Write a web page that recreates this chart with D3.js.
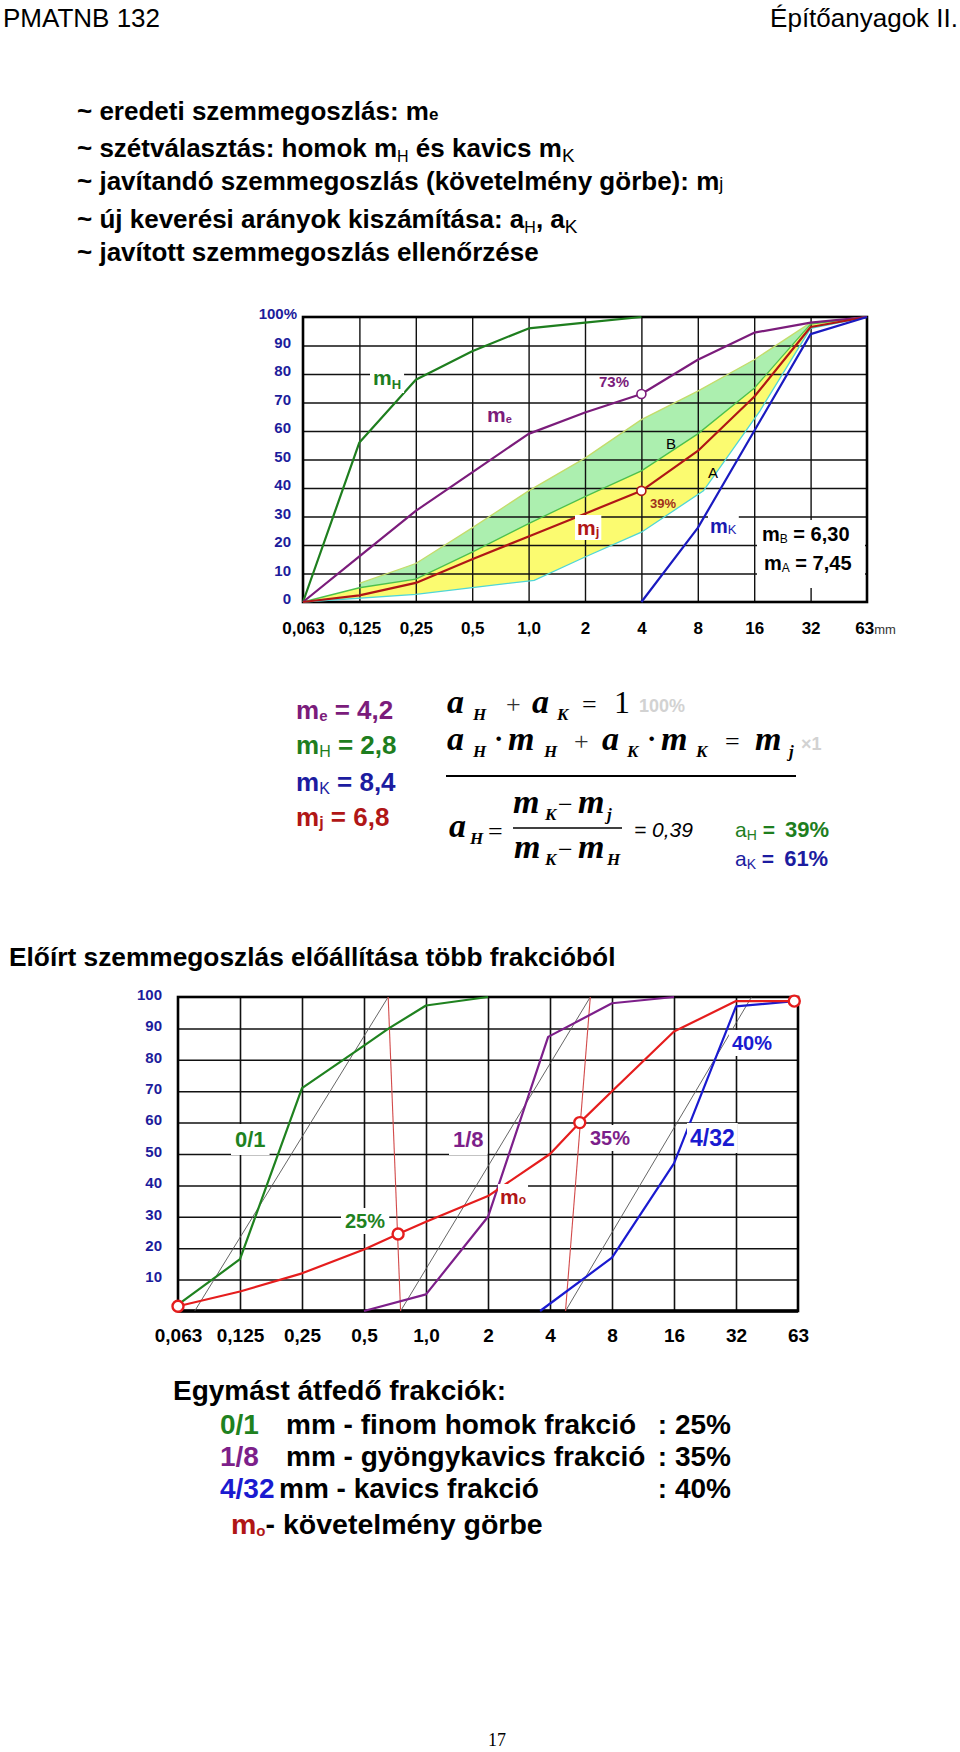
<!DOCTYPE html>
<html><head><meta charset="utf-8">
<script src="https://cdn.jsdelivr.net/npm/d3@7"></script>
<style>body{margin:0;background:#fff}svg{display:block}</style>
</head><body>
<svg id="page" width="960" height="1752"></svg>
<script>
// ---------------- DATA ----------------
// sieve sizes (mm), log2 spaced -> index 0..10
const sieveLabels = ["0,063","0,125","0,25","0,5","1,0","2","4","8","16","32","63"];
const yTicks1 = [0,10,20,30,40,50,60,70,80,90,100];
const yTicks2 = [10,20,30,40,50,60,70,80,90,100];

// Chart 1: [sieve index, passing %]
const mH = [[0,0],[1,56],[2,78],[3,88],[4,96],[5,98],[6,100]];
const mE = [[0,0],[1,16],[2,32],[3,45.5],[4,59],[5,66.5],[6,73],[7,85],[8,94.5],[9,98],[10,100]];
const mJ = [[0,0],[1,2.3],[2,6.7],[3,15],[4,23],[5,31],[6,39],[7,53],[8,72],[9,96.5],[10,100]];
const mK = [[6,0],[7,26],[8,60],[9,94],[10,100]];
const bandUpper = [[1,6.5],[2,13.5],[3,26],[4,39],[5,50.5],[6,64],[7,74],[8,85],[9,98],[10,100]];
const bandMid   = [[0,0],[1,5],[2,8],[3,17.5],[4,27.5],[5,37],[6,46],[7,59],[8,75],[9,97.5],[10,100]];
const bandLower = [[0,0],[2,2.7],[4.1,7.6],[5,15.8],[6,24.5],[7.1,39],[8.1,67],[9,96],[10,100]];
const marks1 = [[6,73],[6,39]];

// Chart 2
const fr01  = [[0,2],[1,16.5],[2,71],[3,84.5],[3.4,90],[4,97.3],[5,100]];
const fr18  = [[3,0],[4,5.3],[5,30],[5.97,87.3],[7,98],[8,100]];
const fr432 = [[5.84,0],[7,17],[8,47],[9,97],[9.94,98.7]];
const mO    = [[0,1.5],[1,6.2],[2,12],[3,19.6],[3.55,24.5],[4,28.4],[5,36.6],[6,50],[6.48,60],[7,70],[8,89],[9,98.7],[9.94,98.7]];
const guide01  = [[0.27,0],[3.39,100]];
const guide18  = [[3.59,0],[6.65,100]];
const guide432 = [[6.25,0],[9.25,100]];
const divide25 = [[3.39,100],[3.59,0]];
const divide35 = [[6.65,100],[6.25,0]];
const marks2 = [[0,1.5],[3.55,24.5],[6.48,60],[9.94,98.7]];

// ---------------- DRAW ----------------
const ARIAL = "Arial, 'Liberation Sans', Helvetica, sans-serif";
const SERIF = "'Times New Roman', 'Liberation Serif', serif";
const PURPLE="#7b1c7b", GREEN="#1e7e1e", BLUE="#1c1ca0", DRED="#b01616", RED="#e51d1d";
const svg = d3.select("#page");
svg.append("rect").attr("width",960).attr("height",1752).attr("fill","#fff");

function rich(g, x, y, parts, attrs) {
  const t = g.append("text").attr("x", x).attr("y", y).attr("font-family", ARIAL);
  Object.entries(attrs||{}).forEach(([k,v])=>t.attr(k,v));
  let cur = 0;
  parts.forEach(p => {
    const o = p.off || 0;
    const ts = t.append("tspan").text(p.t).attr("dy", o - cur);
    cur = o;
    if (p.fs) ts.attr("font-size", p.fs);
    if (p.fw) ts.attr("font-weight", p.fw);
    if (p.fill) ts.attr("fill", p.fill);
    if (p.ff) ts.attr("font-family", p.ff);
    if (p.fst) ts.attr("font-style", p.fst);
    if (p.dx) ts.attr("dx", p.dx);
  });
  return t;
}
function boxed(g, t, px, py) {
  const b = t.node().getBBox();
  g.insert("rect", () => t.node()).attr("x", b.x-px).attr("y", b.y-py)
    .attr("width", b.width+2*px).attr("height", b.height+2*py).attr("fill","#fff");
}
function ftxt(g, x, y, t, fs, o) {
  o = o || {};
  return g.append("text").attr("x",x).attr("y",y).text(t).attr("font-size",fs)
    .attr("font-family", o.ff || SERIF).attr("font-weight", o.fw || "bold")
    .attr("font-style", o.fst || "italic").attr("fill", o.fill || "#000");
}

// Header
svg.append("text").attr("x",3).attr("y",27).text("PMATNB 132").attr("font-family",ARIAL).attr("font-size",26);
svg.append("text").attr("x",958).attr("y",27).attr("text-anchor","end").text("Építőanyagok II.").attr("font-family",ARIAL).attr("font-size",26);

// bullet list
const L = svg.append("g").attr("font-weight","bold").attr("font-size",26);
rich(L, 77, 120, [{t:"~ eredeti szemmegoszlás: m"},{t:"e",fs:17}]);
rich(L, 77, 157, [{t:"~ szétválasztás: homok m"},{t:"H",fs:16,off:5,fw:"normal"},{t:" és kavics m",off:0},{t:"K",fs:19,off:5,fw:"normal"}]);
rich(L, 77, 190, [{t:"~ javítandó szemmegoszlás (követelmény görbe): m"},{t:"j",fs:18,fw:"normal"}]);
rich(L, 77, 228, [{t:"~ új keverési arányok kiszámítása: a"},{t:"H",fs:16,off:5,fw:"normal"},{t:", a",off:0},{t:"K",fs:19,off:5,fw:"normal"}]);
rich(L, 77, 261, [{t:"~ javított szemmegoszlás ellenőrzése"}]);

// ---------- Chart 1 ----------
const c1 = {left:303, right:867, top:317, bottom:602};
const x1 = d3.scaleLinear().domain([0,10]).range([c1.left,c1.right]);
const y1 = d3.scaleLinear().domain([0,100]).range([c1.bottom,c1.top]);
const line1 = d3.line().x(d=>x1(d[0])).y(d=>y1(d[1]));
const g1 = svg.append("g");

g1.append("path").attr("d", line1(bandUpper.concat(bandMid.filter(d=>d[0]>=1).reverse()))+"Z").attr("fill","#acefaf");
g1.append("path").attr("d", line1(bandMid.concat(bandLower.slice().reverse()))+"Z").attr("fill","#fbfb70");

// grid
g1.append("g").attr("transform",`translate(0,${c1.bottom})`)
  .call(d3.axisBottom(x1).tickValues(d3.range(1,10)).tickSize(-(c1.bottom-c1.top)).tickFormat(""))
  .call(g=>g.select(".domain").remove())
  .call(g=>g.selectAll("line").attr("stroke","#111").attr("stroke-width",1.4));
g1.append("g").attr("transform",`translate(${c1.left},0)`)
  .call(d3.axisLeft(y1).tickValues(yTicks1.slice(1,10)).tickSize(-(c1.right-c1.left)).tickFormat(""))
  .call(g=>g.select(".domain").remove())
  .call(g=>g.selectAll("line").attr("stroke","#111").attr("stroke-width",1.4));
g1.append("rect").attr("x",c1.left).attr("y",c1.top).attr("width",c1.right-c1.left).attr("height",c1.bottom-c1.top)
  .attr("fill","none").attr("stroke","#000").attr("stroke-width",2.6);

// white info box
g1.append("rect").attr("x",757).attr("y",520).attr("width",108).attr("height",68).attr("fill","#fff");

// band boundary lines
g1.append("path").attr("d",line1(bandUpper)).attr("fill","none").attr("stroke","#c4dc6a").attr("stroke-width",1.3);
g1.append("path").attr("d",line1(bandMid)).attr("fill","none").attr("stroke","#4cc04c").attr("stroke-width",1.3);
g1.append("path").attr("d",line1(bandLower)).attr("fill","none").attr("stroke","#4fd6d6").attr("stroke-width",1.3);

// curves
[[mH,GREEN],[mE,PURPLE],[mJ,DRED],[mK,"#1a1ac0"]].forEach(([d,c])=>{
  g1.append("path").attr("d",line1(d)).attr("fill","none").attr("stroke",c).attr("stroke-width",2.2).attr("stroke-linejoin","round");
});
g1.selectAll(".mk1").data(marks1).join("circle").attr("cx",d=>x1(d[0])).attr("cy",d=>y1(d[1])).attr("r",4.5)
  .attr("fill","#fff").attr("stroke",(d,i)=>i?DRED:PURPLE).attr("stroke-width",1.6);

// axes labels
g1.append("g").attr("transform",`translate(0,${c1.bottom})`)
  .call(d3.axisBottom(x1).tickValues(d3.range(11)).tickFormat(i=>sieveLabels[i]).tickSize(0))
  .call(g=>g.select(".domain").remove())
  .call(g=>g.selectAll("text").attr("y",32).attr("dy",0).attr("font-size",17).attr("font-weight","bold")
        .attr("font-family",ARIAL).attr("fill","#000"))
  .call(g=>{ const last = g.selectAll("text").filter((d)=>d===10);
             last.attr("x",8).append("tspan").text("mm").attr("font-weight","normal").attr("font-size",13).attr("fill","#333"); });
g1.append("g").attr("transform",`translate(${c1.left},0)`)
  .call(d3.axisLeft(y1).tickValues(yTicks1).tickFormat(v=>v===100?"100%":v).tickSize(0).tickPadding(12))
  .call(g=>g.select(".domain").remove())
  .call(g=>g.selectAll("text").attr("dy","0.12em").attr("font-size",15).attr("font-weight","bold")
        .attr("font-family",ARIAL).attr("fill","#1c1c9c"))
  .call(g=>g.selectAll("text").filter(d=>d===100).attr("x",-6));

// chart 1 labels
const lb1 = g1.append("g").attr("font-weight","bold");
boxed(lb1, rich(lb1, 373, 385, [{t:"m",fs:21},{t:"H",fs:13,off:4}], {fill:GREEN}), 3, 1);
rich(lb1, 487, 422, [{t:"m",fs:21},{t:"e",fs:11,off:1}], {fill:PURPLE});
rich(lb1, 599, 387, [{t:"73%",fs:15}], {fill:PURPLE});
boxed(lb1, rich(lb1, 577, 535, [{t:"m",fs:21},{t:"j",fs:13,off:1}], {fill:DRED}), 2, 1);
rich(lb1, 650, 508, [{t:"39%",fs:13}], {fill:"#a0301a"});
rich(lb1, 666, 449, [{t:"B",fs:15,fw:"normal"}], {fill:"#000"});
rich(lb1, 708, 478, [{t:"A",fs:15,fw:"normal"}], {fill:"#000"});
boxed(lb1, rich(lb1, 710, 533, [{t:"m",fs:20},{t:"K",fs:13,off:1,fw:"normal"}], {fill:"#1a1ab0"}), 2, 1);
rich(lb1, 762, 541, [{t:"m",fs:20},{t:"B",fs:12,off:2,fw:"normal"},{t:" = 6,30",fs:20,off:0}], {fill:"#000"});
rich(lb1, 764, 570, [{t:"m",fs:20},{t:"A",fs:12,off:2,fw:"normal"},{t:" = 7,45",fs:20,off:0}], {fill:"#000"});

// ---------- Formulas ----------
const F = svg.append("g");
const lf = F.append("g").attr("font-weight","bold").attr("font-size",26);
rich(lf, 296, 719, [{t:"m"},{t:"e",fs:15,off:2},{t:" = 4,2",off:0}], {fill:PURPLE});
rich(lf, 296, 754, [{t:"m"},{t:"H",fs:16,off:3,fw:"normal"},{t:" = 2,8",off:0}], {fill:GREEN});
rich(lf, 296, 791, [{t:"m"},{t:"K",fs:16,off:3,fw:"normal"},{t:" = 8,4",off:0}], {fill:BLUE});
rich(lf, 296, 826, [{t:"m"},{t:"j",fs:16,off:2},{t:"  = 6,8",off:0}], {fill:DRED});

const FS = 34, SS = 17;
// row 1
ftxt(F,447,713,"a",FS); ftxt(F,473,720,"H",SS);
ftxt(F,506,713,"+",26,{fw:"normal",fst:"normal",fill:"#333"});
ftxt(F,532,713,"a",FS); ftxt(F,557,720,"K",SS);
ftxt(F,582,713,"=",26,{fw:"normal",fst:"normal"});
ftxt(F,614,713,"1",32,{fw:"normal",fst:"normal"});
ftxt(F,639,712,"100%",18,{ff:ARIAL,fst:"normal",fill:"#d2d2d2"});
// row 2
ftxt(F,447,750,"a",FS); ftxt(F,473,757,"H",SS);
ftxt(F,494,748,"·",28,{fst:"normal"});
ftxt(F,508,750,"m",FS); ftxt(F,544,757,"H",SS);
ftxt(F,574,750,"+",26,{fw:"normal",fst:"normal",fill:"#333"});
ftxt(F,602,750,"a",FS); ftxt(F,627,757,"K",SS);
ftxt(F,647,748,"·",28,{fst:"normal"});
ftxt(F,661,750,"m",FS); ftxt(F,696,757,"K",SS);
ftxt(F,725,750,"=",26,{fw:"normal",fst:"normal"});
ftxt(F,755,750,"m",FS); ftxt(F,789,757,"j",SS);
ftxt(F,801,750,"×1",18,{ff:ARIAL,fst:"normal",fill:"#d2d2d2"});
F.append("line").attr("x1",446).attr("x2",796).attr("y1",776).attr("y2",776).attr("stroke","#000").attr("stroke-width",2);
// row 3
ftxt(F,449,837,"a",FS); ftxt(F,470,844,"H",SS);
ftxt(F,488,840,"=",26,{fw:"normal",fst:"normal"});
ftxt(F,513,813,"m",FS); ftxt(F,545,820,"K",SS);
ftxt(F,558,813,"−",26,{fw:"normal",fst:"normal"});
ftxt(F,578,813,"m",FS); ftxt(F,607,820,"j",SS);
F.append("line").attr("x1",513).attr("x2",622).attr("y1",828).attr("y2",828).attr("stroke","#000").attr("stroke-width",1.5);
ftxt(F,514,858,"m",FS); ftxt(F,545,865,"K",SS);
ftxt(F,558,858,"−",26,{fw:"normal",fst:"normal"});
ftxt(F,578,858,"m",FS); ftxt(F,607,865,"H",SS);
ftxt(F,634,837,"= 0,39",21,{ff:ARIAL,fw:"normal"});
rich(F, 735, 837, [{t:"a",fs:21,fw:"normal"},{t:"H",fs:14,off:3,fw:"normal"},{t:" =",fs:21,off:0,fw:"bold"},{t:"39%",fs:22,fw:"bold",dx:10}], {fill:GREEN});
rich(F, 735, 866, [{t:"a",fs:21,fw:"normal"},{t:"K",fs:14,off:3,fw:"normal"},{t:" =",fs:21,off:0,fw:"bold"},{t:"61%",fs:22,fw:"bold",dx:10}], {fill:BLUE});

// heading
svg.append("text").attr("x",9).attr("y",966).text("Előírt szemmegoszlás előállítása több frakcióból")
  .attr("font-family",ARIAL).attr("font-weight","bold").attr("font-size",26.3);

// ---------- Chart 2 ----------
const c2 = {left:178, right:798, top:997, bottom:1311};
const x2 = d3.scaleLinear().domain([0,10]).range([c2.left,c2.right]);
const y2 = d3.scaleLinear().domain([0,100]).range([c2.bottom,c2.top]);
const line2 = d3.line().x(d=>x2(d[0])).y(d=>y2(d[1]));
const g2 = svg.append("g");
g2.append("g").attr("transform",`translate(0,${c2.bottom})`)
  .call(d3.axisBottom(x2).tickValues(d3.range(1,10)).tickSize(-(c2.bottom-c2.top)).tickFormat(""))
  .call(g=>g.select(".domain").remove())
  .call(g=>g.selectAll("line").attr("stroke","#111").attr("stroke-width",1.6));
g2.append("g").attr("transform",`translate(${c2.left},0)`)
  .call(d3.axisLeft(y2).tickValues(yTicks2.slice(0,9)).tickSize(-(c2.right-c2.left)).tickFormat(""))
  .call(g=>g.select(".domain").remove())
  .call(g=>g.selectAll("line").attr("stroke","#111").attr("stroke-width",1.5));
g2.append("rect").attr("x",c2.left).attr("y",c2.top).attr("width",c2.right-c2.left).attr("height",c2.bottom-c2.top)
  .attr("fill","none").attr("stroke","#000").attr("stroke-width",2.6);
g2.append("line").attr("x1",c2.left).attr("x2",c2.right).attr("y1",c2.bottom).attr("y2",c2.bottom).attr("stroke","#000").attr("stroke-width",3.5);

// guides
[guide01,guide18,guide432].forEach(d=>g2.append("path").attr("d",line2(d)).attr("fill","none").attr("stroke","#555").attr("stroke-width",0.9));
[divide25,divide35].forEach(d=>g2.append("path").attr("d",line2(d)).attr("fill","none").attr("stroke","#d24a4a").attr("stroke-width",1.1));
[[fr01,"#1f821f"],[fr18,"#7d1f8a"],[fr432,"#1a1ad0"],[mO,RED]].forEach(([d,c])=>{
  g2.append("path").attr("d",line2(d)).attr("fill","none").attr("stroke",c).attr("stroke-width",2.2).attr("stroke-linejoin","round");
});
g2.selectAll(".mk2").data(marks2).join("circle").attr("cx",d=>x2(d[0])).attr("cy",d=>y2(d[1])).attr("r",5.5)
  .attr("fill","#fff").attr("stroke",RED).attr("stroke-width",2.4);

g2.append("g").attr("transform",`translate(0,${c2.bottom})`)
  .call(d3.axisBottom(x2).tickValues(d3.range(11)).tickFormat(i=>sieveLabels[i]).tickSize(0))
  .call(g=>g.select(".domain").remove())
  .call(g=>g.selectAll("text").attr("y",31).attr("dy",0).attr("font-size",19).attr("font-weight","bold")
        .attr("font-family",ARIAL).attr("fill","#000"));
g2.append("g").attr("transform",`translate(${c2.left},0)`)
  .call(d3.axisLeft(y2).tickValues(yTicks2).tickSize(0).tickPadding(16))
  .call(g=>g.select(".domain").remove())
  .call(g=>g.selectAll("text").attr("dy","0.15em").attr("font-size",15).attr("font-weight","bold")
        .attr("font-family",ARIAL).attr("fill","#1c1c9c"));

const lb2 = g2.append("g").attr("font-weight","bold");
boxed(lb2, rich(lb2, 235, 1147, [{t:"0/1",fs:22}], {fill:"#1f821f"}), 4, 3);
boxed(lb2, rich(lb2, 453, 1147, [{t:"1/8",fs:22}], {fill:"#7d1f8a"}), 4, 3);
boxed(lb2, rich(lb2, 345, 1228, [{t:"25%",fs:20}], {fill:"#1f821f"}), 4, 2);
boxed(lb2, rich(lb2, 500, 1204, [{t:"m",fs:21},{t:"o",fs:12,off:0}], {fill:DRED}), 2, 1);
boxed(lb2, rich(lb2, 590, 1145, [{t:"35%",fs:20}], {fill:"#7d1f8a"}), 3, 2);
boxed(lb2, rich(lb2, 690, 1146, [{t:"4/32",fs:23}], {fill:"#1a1ad0"}), 3, 2);
boxed(lb2, rich(lb2, 732, 1050, [{t:"40%",fs:20}], {fill:"#1a1ad0"}), 3, 2);

// ---------- Bottom text ----------
const B = svg.append("g").attr("font-weight","bold").attr("font-size",28);
rich(B, 173, 1400, [{t:"Egymást átfedő frakciók:",fs:28}]);
const rows = [
  {k:"0/1", c:"#1f821f", t:"mm - finom homok frakció", p:": 25%", y:1434},
  {k:"1/8", c:"#7d1f8a", t:"mm - gyöngykavics frakció", p:": 35%", y:1466},
  {k:"4/32", c:"#1a1ad0", t:"mm - kavics frakció", p:": 40%", y:1498}
];
rows.forEach(r=>{
  rich(B, 220, r.y, [{t:r.k}], {fill:r.c});
  rich(B, r.k==="4/32"?279:286, r.y, [{t:r.t}]);
  rich(B, 731, r.y, [{t:r.p}], {"text-anchor":"end"});
});
rich(B, 231, 1534, [{t:"m",fill:DRED},{t:"o",fs:15,off:2,fill:DRED},{t:"- követelmény görbe",off:0}], {"font-size":28.5});

// page number
svg.append("text").attr("x",497).attr("y",1746).attr("text-anchor","middle").text("17")
  .attr("font-family",SERIF).attr("font-size",18);
</script>
</body></html>
